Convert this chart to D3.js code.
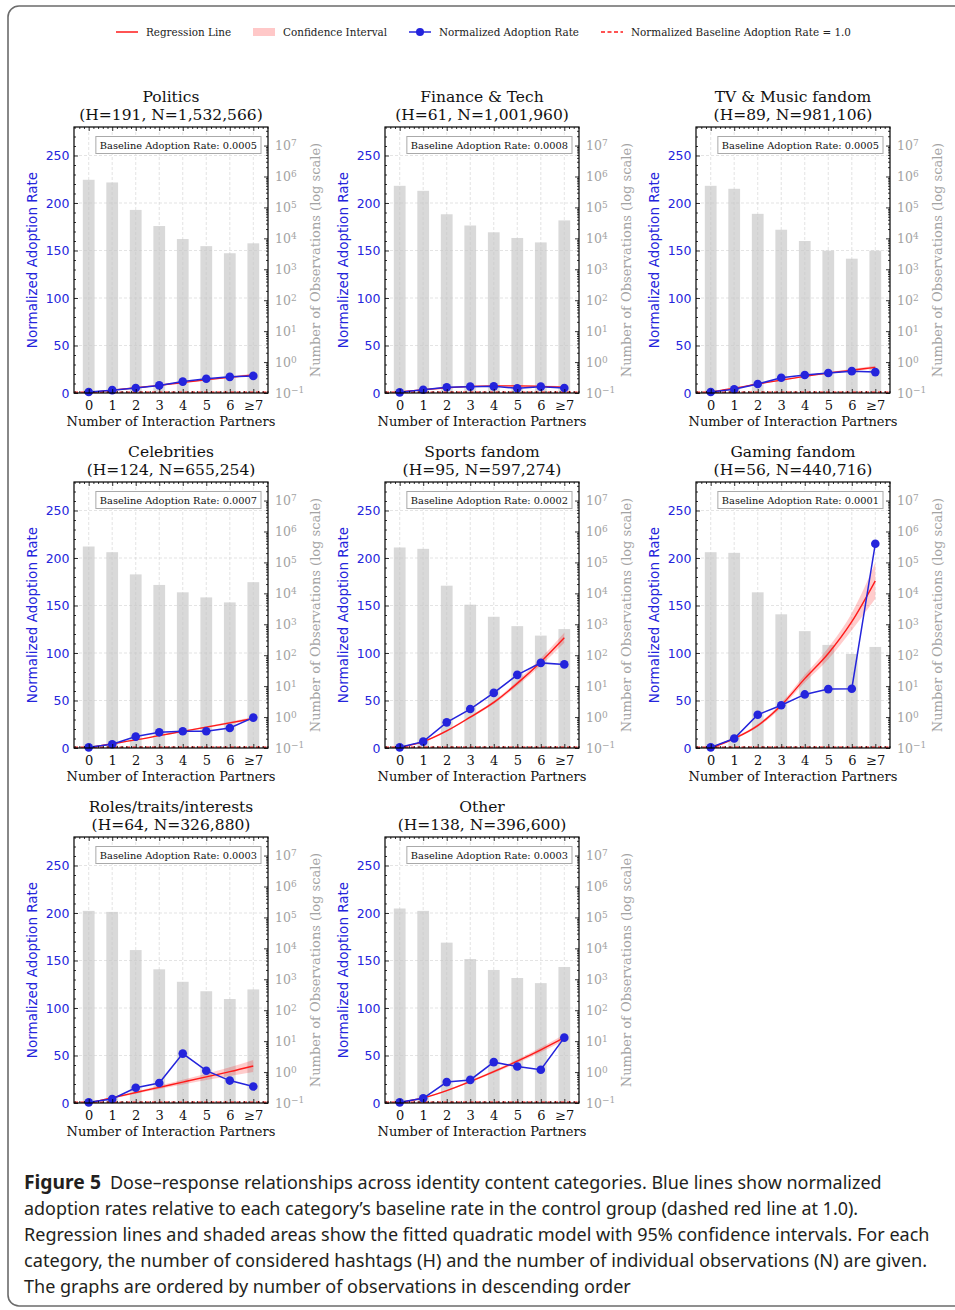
<!DOCTYPE html>
<html>
<head>
<meta charset="utf-8">
<script src="https://cdn.jsdelivr.net/npm/d3@7"></script>
<style>
  body { margin: 0; background: #fff; }
  text { font-family: "DejaVu Serif", serif; }
</style>
</head>
<body>
<svg id="fig" width="955" height="1310"></svg>
<script>
// ---- data ----
const categories = ["0", "1", "2", "3", "4", "5", "6", "≥7"];
const panelNames = ["Politics", "Finance & Tech", "TV & Music fandom", "Celebrities",
                    "Sports fandom", "Gaming fandom", "Roles/traits/interests", "Other"];
const hashtagCounts = [191, 61, 89, 124, 95, 56, 64, 138];
const observationTotals = [1532566, 1001960, 981106, 655254, 597274, 440716, 326880, 396600];
const baselineRates = ["0.0005", "0.0008", "0.0005", "0.0007", "0.0002", "0.0001", "0.0003", "0.0003"];

// number of observations per partner count (right, log axis)
const observationCounts = [
  [783000, 641000, 83000, 25000, 9500, 5600, 3300, 6900],
  [500000, 344000, 60000, 26000, 15700, 10300, 7400, 38000],
  [500000, 400000, 62000, 19000, 8200, 4000, 2200, 4000],
  [327000, 214000, 41000, 18700, 10800, 7400, 5100, 23000],
  [304000, 275000, 17700, 4300, 1750, 870, 430, 700],
  [214000, 204000, 10800, 2100, 600, 215, 110, 185],
  [163000, 151000, 8800, 2100, 830, 410, 230, 470],
  [194000, 163000, 15300, 4500, 2000, 1100, 750, 2500]
];
// normalized adoption rate (blue points)
const adoptionRates = [
  [1, 3, 5.3, 8, 12, 15, 17, 18],
  [0.7, 3.5, 6, 6.7, 7, 5, 6.7, 5.3],
  [1, 4, 9.5, 16, 19, 21, 23, 22],
  [0.7, 4, 12, 16.5, 17.6, 17.6, 21, 32],
  [0.7, 6.7, 27, 41, 58, 77, 89.6, 88],
  [0.7, 10, 35, 45, 56.4, 62, 62.4, 215],
  [0.7, 4.2, 16, 21, 52, 34, 23.6, 17.3],
  [0.7, 5, 22, 24.3, 43, 38.4, 35, 68.8]
];
// quadratic fit (red line) at each partner count
const fittedRates = [
  [0.5, 3, 5.5, 8, 11, 14, 16.5, 19],
  [1, 3.5, 5.5, 7, 7.5, 7.5, 7, 6],
  [1, 5, 9.5, 13.5, 17.5, 21, 24, 27],
  [0.5, 4.5, 8.5, 13, 17.5, 22, 26.5, 31],
  [0.7, 6.7, 18, 32.5, 48, 68, 90.6, 116],
  [0, 10, 23.6, 45, 73, 99.5, 133, 176],
  [0, 5.5, 11, 16.5, 22, 27.5, 33, 39],
  [0.7, 5.3, 13, 22.6, 33, 44, 56, 68.8]
];
// half width of the 95% confidence band
const ciHalfWidths = [
  [0.3, 0.4, 0.5, 0.5, 0.6, 0.7, 0.9, 1.2],
  [0.3, 0.4, 0.5, 0.5, 0.6, 0.7, 0.9, 1.2],
  [0.3, 0.4, 0.5, 0.6, 0.7, 0.9, 1.2, 1.6],
  [0.3, 0.4, 0.5, 0.6, 0.7, 0.9, 1.2, 1.6],
  [0.4, 0.6, 0.9, 1.3, 1.8, 2.6, 3.8, 5.2],
  [0.5, 1, 1.6, 2.5, 4, 6, 9, 19],
  [0.4, 0.8, 1.2, 1.8, 2.5, 3.4, 4.6, 6.3],
  [0.3, 0.5, 0.7, 1, 1.4, 1.9, 2.5, 3.4]
];
const leftTicks = [0, 50, 100, 150, 200, 250];
const legendLabels = ["Regression Line", "Confidence Interval", "Normalized Adoption Rate",
                      "Normalized Baseline Adoption Rate = 1.0"];
const captionLines = [
  "Dose\u2013response relationships across identity content categories. Blue lines show normalized",
  "adoption rates relative to each category\u2019s baseline rate in the control group (dashed red line at 1.0).",
  "Regression lines and shaded areas show the fitted quadratic model with 95% confidence intervals. For each",
  "category, the number of considered hashtags (H) and the number of individual observations (N) are given.",
  "The graphs are ordered by number of observations in descending order"
];

// ---- layout ----
const svg = d3.select("#fig");
const W = 194, H = 266;
const colX = [74, 385, 696];
const rowY = [127, 482, 837];
const BLUE = "#2424dc", RED = "#ff1a1a", GREY = "#a3a3a3";
const sans = "'DejaVu Sans', sans-serif";

const x = d3.scaleLinear([-0.625, 7.625], [0, W]);
const y = d3.scaleLinear([0, 280], [H, 0]);
const yObs = d3.scaleLog([0.1, Math.pow(10, 7.6)], [H, 0]);
const idx = d3.range(categories.length);

// figure frame
svg.append("rect")
  .attr("x", 8).attr("y", 6).attr("width", 970).attr("height", 1300)
  .attr("rx", 11).attr("fill", "none").attr("stroke", "#6b6b6b").attr("stroke-width", 1.6);

// legend
const legend = svg.append("g").attr("transform", "translate(0,32)");
const legX = [116, 253, 409, 601];
legend.append("line").attr("x1", legX[0]).attr("x2", legX[0] + 22).attr("stroke", RED).attr("stroke-width", 1.5);
legend.append("rect").attr("x", legX[1]).attr("y", -4).attr("width", 22).attr("height", 8).attr("fill", "#ffc8c8");
legend.append("line").attr("x1", legX[2]).attr("x2", legX[2] + 22).attr("stroke", BLUE).attr("stroke-width", 1.5);
legend.append("circle").attr("cx", legX[2] + 11).attr("r", 4).attr("fill", BLUE);
legend.append("line").attr("x1", legX[3]).attr("x2", legX[3] + 22).attr("stroke", RED)
  .attr("stroke-width", 1.3).attr("stroke-dasharray", "4,2.5");
legend.selectAll("text.leg").data(legendLabels).join("text")
  .attr("x", (d, i) => legX[i] + 30).attr("y", 3.6)
  .attr("font-size", 10.4).attr("fill", "#222").text(d => d);

// panels
panelNames.forEach((name, p) => {
  const g = svg.append("g")
    .attr("transform", `translate(${colX[p % 3]},${rowY[Math.floor(p / 3)]})`);

  // title
  g.append("text").attr("x", W / 2).attr("y", -25).attr("text-anchor", "middle")
    .attr("font-size", 15.5).attr("fill", "#111").text(name);
  g.append("text").attr("x", W / 2).attr("y", -7.5).attr("text-anchor", "middle")
    .attr("font-size", 15.5).attr("fill", "#111")
    .text(`(H=${hashtagCounts[p]}, N=${d3.format(",")(observationTotals[p])})`);

  // bars (log axis)
  g.append("g").selectAll("rect").data(idx).join("rect")
    .attr("x", i => x(i - 0.25)).attr("width", x(0.5) - x(0))
    .attr("y", i => yObs(observationCounts[p][i]))
    .attr("height", i => H - yObs(observationCounts[p][i]))
    .attr("fill", "#d9d9d9");

  // grid
  const grid = g.append("g").attr("stroke", "#c8c8c8").attr("stroke-width", 0.6)
    .attr("stroke-dasharray", "3,2").attr("opacity", 0.8);
  grid.selectAll("line.v").data(idx).join("line").attr("class", "v")
    .attr("x1", i => x(i)).attr("x2", i => x(i)).attr("y1", 0).attr("y2", H);
  grid.selectAll("line.h").data(leftTicks.slice(1)).join("line").attr("class", "h")
    .attr("y1", d => y(d)).attr("y2", d => y(d)).attr("x1", 0).attr("x2", W);

  // confidence band and regression line
  g.append("path").datum(idx)
    .attr("fill", "#ff0000").attr("fill-opacity", 0.2)
    .attr("d", d3.area().curve(d3.curveMonotoneX)
      .x(i => x(i))
      .y0(i => y(fittedRates[p][i] - ciHalfWidths[p][i]))
      .y1(i => y(fittedRates[p][i] + ciHalfWidths[p][i])));
  g.append("path").datum(idx)
    .attr("fill", "none").attr("stroke", RED).attr("stroke-width", 1.4)
    .attr("d", d3.line().curve(d3.curveMonotoneX).x(i => x(i)).y(i => y(fittedRates[p][i])));

  // baseline at 1.0
  g.append("line").attr("x1", 0).attr("x2", W).attr("y1", y(1)).attr("y2", y(1))
    .attr("stroke", RED).attr("stroke-width", 1.3).attr("stroke-dasharray", "4,2.5");

  // adoption rate
  g.append("path").datum(idx)
    .attr("fill", "none").attr("stroke", BLUE).attr("stroke-width", 1.5)
    .attr("d", d3.line().x(i => x(i)).y(i => y(adoptionRates[p][i])));
  g.append("g").selectAll("circle").data(idx).join("circle")
    .attr("cx", i => x(i)).attr("cy", i => y(adoptionRates[p][i])).attr("r", 4.3)
    .attr("fill", BLUE);

  // axes (ticks pointing inward)
  const minorX = d3.range(-0.6, 7.61, 0.2).filter(v => Math.abs(v - Math.round(v)) > 1e-6);
  g.append("g").attr("transform", `translate(0,${H})`)
    .call(d3.axisBottom(x).tickValues(idx).tickFormat(i => categories[i])
      .tickSize(-4).tickPadding(8))
    .call(a => a.selectAll("text").attr("font-size", 13).attr("fill", "#111")
      .style("font-family", "'DejaVu Serif', serif"));
  g.append("g").attr("transform", `translate(0,${H})`)
    .call(d3.axisBottom(x).tickValues(minorX).tickFormat("").tickSize(-2));
  g.append("g").call(d3.axisTop(x).tickValues(idx).tickFormat("").tickSize(-4));
  g.append("g").call(d3.axisTop(x).tickValues(minorX).tickFormat("").tickSize(-2));

  g.append("g")
    .call(d3.axisLeft(y).tickValues(leftTicks).tickSize(-4).tickPadding(4.5))
    .call(a => a.selectAll("text").attr("font-size", 12.5).attr("fill", BLUE)
      .style("font-family", sans));
  g.append("g")
    .call(d3.axisLeft(y).tickValues(d3.range(10, 280, 10).filter(v => v % 50)).tickFormat("").tickSize(-2));

  const decades = d3.range(-1, 8);
  const minorLog = [];
  d3.range(-1, 8).forEach(e => d3.range(2, 10).forEach(m => {
    const v = m * Math.pow(10, e);
    if (v < Math.pow(10, 7.6)) minorLog.push(v);
  }));
  g.append("g").attr("transform", `translate(${W},0)`)
    .call(d3.axisRight(yObs).tickValues(decades.map(e => Math.pow(10, e)))
      .tickFormat("").tickSize(-4).tickPadding(7))
    .call(a => a.selectAll(".tick text").each(function (d) {
      const t = d3.select(this).attr("font-size", 12.5).attr("fill", GREY)
        .style("font-family", "'DejaVu Serif', serif");
      const e = Math.round(Math.log10(d));
      t.append("tspan").text("10");
      t.append("tspan").attr("dy", "-0.45em").attr("font-size", 9)
        .text(e < 0 ? "\u2212" + (-e) : String(e));
    }));
  g.append("g").attr("transform", `translate(${W},0)`)
    .call(d3.axisRight(yObs).tickValues(minorLog).tickFormat("").tickSize(-2));

  g.selectAll(".domain").remove();
  g.selectAll(".tick line").attr("stroke", "#000").attr("stroke-width", 0.8);

  // spines
  g.append("rect").attr("width", W).attr("height", H)
    .attr("fill", "none").attr("stroke", "#000").attr("stroke-width", 1.2);

  // axis labels
  g.append("text").attr("transform", `translate(-37,${H / 2}) rotate(-90)`)
    .attr("text-anchor", "middle").attr("font-size", 13.5).attr("fill", BLUE)
    .style("font-family", sans).text("Normalized Adoption Rate");
  g.append("text").attr("transform", `translate(${W + 52},${H / 2}) rotate(-90)`)
    .attr("text-anchor", "middle").attr("font-size", 13).attr("fill", GREY)
    .text("Number of Observations (log scale)");
  g.append("text").attr("x", W / 2).attr("y", H + 32.5).attr("text-anchor", "middle")
    .attr("font-size", 13).attr("fill", "#111").text("Number of Interaction Partners");

  // baseline rate box
  const box = g.append("g");
  const bt = box.append("text").attr("x", W - 11).attr("y", 21.5).attr("text-anchor", "end")
    .attr("font-size", 9.8).attr("fill", "#111").text(`Baseline Adoption Rate: ${baselineRates[p]}`);
  const bw = bt.node().getComputedTextLength();
  box.insert("rect", "text").attr("x", W - 7 - bw - 8).attr("y", 9.5)
    .attr("width", bw + 8).attr("height", 17).attr("fill", "#fff")
    .attr("stroke", "#aaa").attr("stroke-width", 1);
});

// caption: condensed face, each line squeezed horizontally to the reference width
const cap = svg.append("g").attr("fill", "#231f20");
function capLine(str, x0, x1, yb, bold) {
  const holder = cap.append("g");
  const t = holder.append("text").attr("x", 0).attr("y", 0).attr("font-size", 19)
    .attr("font-weight", bold ? "bold" : null)
    .style("font-family", "'Noto Sans', sans-serif").text(str);
  const len = t.node().getComputedTextLength();
  holder.attr("transform", `translate(${x0},${yb}) scale(${(x1 - x0) / len},1)`);
}
capLine("Figure 5", 24, 101, 1189, true);
const capEnds = [882, 859, 930, 928, 631];
captionLines.forEach((line, i) => {
  capLine(line, i === 0 ? 110 : 24, capEnds[i], 1189 + i * 26, false);
});
</script>
</body>
</html>
